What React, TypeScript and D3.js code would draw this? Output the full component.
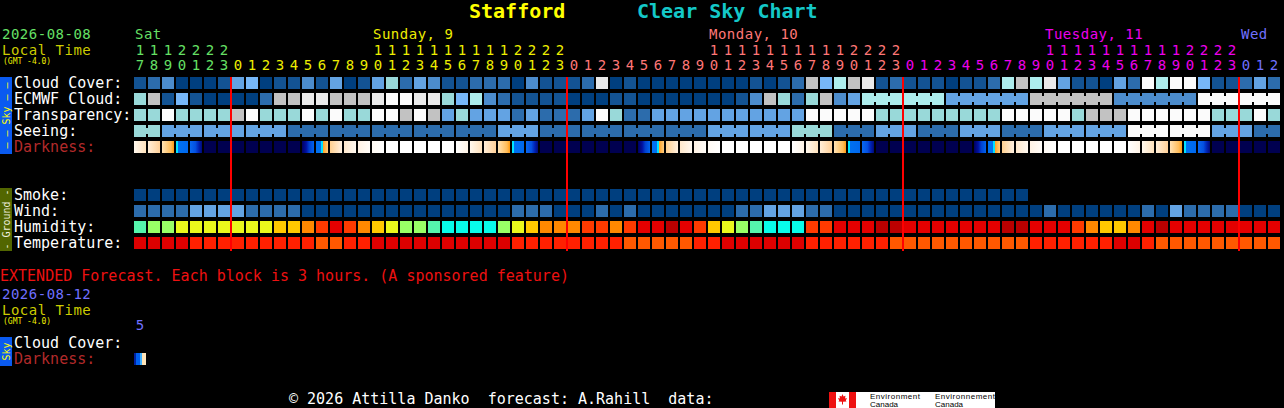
import React, { useEffect } from 'react';
import * as d3 from 'd3';

// chart forecast starts Sat 17:00 local, one column per hour
const days = [
  { label: 'Sat', color: '#66e066', first: 17, last: 23 },
  { label: 'Sunday, 9', color: '#eeee00', first: 0, last: 23 },
  { label: 'Monday, 10', color: '#ff7777', first: 0, last: 23 },
  { label: 'Tuesday, 11', color: '#ee00ee', first: 0, last: 23 },
  { label: 'Wed', color: '#7070ff', first: 0, last: 2 },
];

const skyRows = ['Cloud Cover:', 'ECMWF Cloud:', 'Transparency:', 'Seeing:', 'Darkness:'];
const groundRows = ['Smoke:', 'Wind:', 'Humidity:', 'Temperature:'];

// colour levels (0 = clear/best ... 10 = overcast/worst)
const cloudPalette = ['#003F7F', '#135393', '#2C6CAC', '#4C8CCC', '#63A3E3', '#77B7F7', '#99D9D9', '#ADEDED', '#C2C2C2', '#EAEAEA', '#FBFBFB'];
const humidityPalette = ['#08FCEA', '#55F5AC', '#99FF66', '#EAF81C', '#FFC800', '#FF8800', '#FF3A00', '#E40000', '#BB0000'];
const tempPalette = ['#DD0000', '#FF2000', '#FF5800'];

const cloudCover = [
  1, 2, 3, 0, 0, 0, 1, 4, 5, 0, 1, 1, 3, 1, 4, 0, 1, 4, 6, 2, 4,
  3, 1, 1, 2, 2, 2, 0, 3, 1, 1, 1, 2, 9, 0, 1, 0, 0, 0, 0, 0, 0, 0, 0, 1, 0, 1, 2, 8, 5, 7,
  8, 9, 1, 2, 1, 1, 1, 0, 1, 1, 2, 7, 8, 7, 9, 4, 1, 1, 0, 4, 2, 10, 7, 10, 10, 5, 1, 1, 2, 4, 2,
];

const ecmwfHourly = [
  6, 8, 1, 5, 1, 0, 0, 0, 0, 2, 8, 8, 9, 9, 8, 8, 8, 9, 10, 10, 9,
  9, 6, 5, 7, 3, 2, 1, 1, 1, 1, 0, 0, 0, 1, 1, 0, 0, 0, 0, 0, 0, 0, 1, 3, 8, 6, 2, 6, 8, 3,
  4,
];
const ecmwfSixHourly = [7, 4, 8, 3, 10];

const transparency = [
  6, 6, 10, 6, 6, 6, 6, 8, 10, 6, 6, 6, 10, 6, 10, 6, 6, 10, 10, 8, 10,
  8, 4, 6, 4, 4, 4, 2, 4, 2, 2, 2, 4, 10, 6, 2, 2, 4, 4, 4, 4, 4, 4, 4, 4, 4, 4, 4, 10, 10, 10,
  10, 10, 6, 6, 6, 6, 6, 6, 6, 6, 6, 10, 10, 10, 10, 10, 6, 8, 8, 8, 10, 10, 10, 10, 10, 10, 6, 6, 6, 10, 6,
];

// [level, hours]
const seeing: [number, number][] = [
  [6, 2], [4, 3], [4, 3], [4, 3], [2, 3], [2, 3], [2, 3], [2, 3], [2, 3], [4, 3],
  [2, 3], [2, 3], [2, 3], [2, 3], [4, 3], [4, 3], [6, 3], [2, 3], [4, 3], [2, 3],
  [4, 3], [2, 3], [4, 3], [4, 3], [10, 3], [10, 3], [4, 3], [2, 2],
];

const darkness = [
  'e1', 'e2', 'e3', 'e4', 'e5', 'N', 'N', 'N', 'N', 'N', 'N', 'N', 'm1', 'm2', 'm3', 'm4', 'm5', 'm6', 'D', 'D', 'D', 'D', 'D', 'e0',
  'e1', 'e2', 'e3', 'e4', 'e5', 'N', 'N', 'N', 'N', 'N', 'N', 'N', 'm1', 'm2', 'm3', 'm4', 'm5', 'm6', 'D', 'D', 'D', 'D', 'D', 'e0',
  'e1', 'e2', 'e3', 'e4', 'e5', 'N', 'N', 'N', 'N', 'N', 'N', 'N', 'm1', 'm2', 'm3', 'm4', 'm5', 'm6', 'D', 'D', 'D', 'D', 'D', 'e0',
  'e1', 'e2', 'e3', 'e4', 'e5', 'N', 'N', 'N', 'N', 'N',
];

const smoke = [
  0, 0, 0, 0, 0, 0, 0, 0, 0, 0, 0, 0, 0, 0, 0, 0, 0, 0, 0, 0, 0, 0, 0, 0, 0, 0, 0, 0, 0, 0, 0, 0,
  0, 0, 0, 0, 0, 0, 0, 0, 0, 0, 0, 0, 0, 0, 0, 0, 0, 0, 0, 0, 0, 0, 0, 0, 0, 0, 0, 0, 0, 0, 0, 0,
];

const wind = [
  2, 2, 2, 2, 4, 4, 4, 4, 2, 2, 2, 2, 0, 0, 0, 0, 0, 0, 0, 0, 0,
  0, 0, 0, 0, 0, 0, 2, 2, 2, 0, 0, 0, 2, 0, 2, 0, 0, 0, 0, 0, 0, 0, 2, 2, 4, 4, 4, 2, 2, 0,
  0, 0, 0, 0, 0, 0, 0, 0, 0, 0, 0, 0, 0, 0, 2, 0, 0, 0, 0, 0, 0, 2, 0, 4, 2, 2, 2, 2, 0, 0, 0,
];

const humidity = [
  1, 2, 2, 3, 3, 3, 3, 3, 3, 3, 4, 4, 5, 6, 7, 6, 5, 4, 3, 2, 2,
  1, 0, 0, 0, 0, 2, 3, 4, 5, 5, 5, 6, 6, 5, 6, 7, 7, 8, 7, 6, 4, 3, 2, 1, 0, 0, 0, 6, 6, 7,
  7, 7, 8, 8, 7, 7, 7, 7, 7, 7, 7, 8, 8, 7, 7, 7, 6, 5, 4, 4, 5, 7, 8, 7, 7, 7, 7, 7, 7, 7, 7,
];

const temperature = [
  0, 0, 0, 0, 1, 1, 1, 1, 1, 1, 1, 1, 1, 2, 2, 1, 1, 0, 0, 0, 0,
  0, 0, 0, 0, 0, 0, 1, 1, 1, 1, 1, 1, 1, 1, 2, 2, 2, 2, 2, 1, 1, 0, 0, 0, 0, 0, 0, 1, 1, 1,
  1, 1, 1, 2, 2, 2, 2, 2, 2, 2, 2, 2, 2, 1, 1, 1, 1, 1, 1, 0, 0, 1, 2, 2, 2, 2, 2, 2, 2, 2, 2,
];

// extended (3 hour blocks)
const extHours = [5];
const extDarkness = ['x1'];

// horizontal gradients inside one darkness block
const darkStops: Record<string, [number, string][]> = {
  D: [[0, '#ffffff'], [1, '#ffffff']],
  N: [[0, '#000050'], [1, '#000050']],
  e0: [[0, '#ffffff'], [1, '#fff4e6']],
  e1: [[0, '#fff8ee'], [1, '#ffe2bc']],
  e2: [[0, '#ffeed8'], [1, '#ffd098']],
  e3: [[0, '#ffe2b4'], [0.75, '#ffbc58'], [1, '#ff9a10']],
  e4: [[0, '#00e4ff'], [0.17, '#00e4ff'], [0.17, '#0070f0'], [1, '#0068ee']],
  e5: [[0, '#0868f0'], [0.45, '#0450e0'], [0.75, '#0020b0'], [1, '#000a78']],
  m1: [[0, '#000060'], [0.35, '#0010a0'], [0.6, '#0040d0'], [1, '#0064ee']],
  m2: [[0, '#0070f0'], [0.45, '#0070f0'], [0.45, '#00e0ff'], [0.58, '#00e0ff'], [0.58, '#ffa020'], [1, '#ffcc80']],
  m3: [[0, '#ffd090'], [1, '#fff0e0']],
  m4: [[0, '#ffe8cc'], [1, '#fff8f0']],
  m5: [[0, '#fff2e4'], [1, '#fffcf8']],
  m6: [[0, '#fffaf4'], [1, '#ffffff']],
  x1: [[0, '#0020a0'], [0.17, '#0020a0'], [0.17, '#0060f0'], [0.5, '#0060f0'], [0.5, '#40b0ff'], [0.67, '#40b0ff'], [0.67, '#ffe0b0'], [1, '#ffe8c0']],
};

const MONO = '"DejaVu Sans Mono", monospace';
const W = 1284;
const H = 408;

type Block = { v: number; n: number };

function BlockRow({ blocks, x, y, h, palette }: { blocks: Block[]; x: d3.ScaleBand<number>; y: number; h: number; palette: string[] }) {
  const bw = x.bandwidth();
  let col = 0;
  const out: React.ReactNode[] = [];
  blocks.forEach((b, i) => {
    const c0 = col;
    const c1 = col + b.n - 1;
    out.push(<rect key={'b' + i} x={x(c0)} y={y} width={(x(c1) as number) + bw - (x(c0) as number)} height={h} fill={palette[b.v]} />);
    for (let c = c0; c < c1; c++) {
      const gx = (x(c) as number) + bw;
      out.push(<rect key={`n${i}-${c}t`} x={gx} y={y} width={x.step() - bw} height={3} fill="#000" />);
      out.push(<rect key={`n${i}-${c}b`} x={gx} y={y + h - 3} width={x.step() - bw} height={3} fill="#000" />);
    }
    col += b.n;
  });
  return <g>{out}</g>;
}

export default function App() {
  useEffect(() => {
    document.body.style.margin = '0';
    document.body.style.background = '#000';
  }, []);

  // flatten the hour axis
  const cols: { hour: number; day: number }[] = [];
  days.forEach((d, di) => d3.range(d.first, d.last + 1).forEach((h) => cols.push({ hour: h, day: di })));
  const N = cols.length;

  const x = d3.scaleBand<number>().domain(d3.range(N)).range([134, 1280]).paddingInner(2 / 14).paddingOuter(0);
  const bw = x.bandwidth();
  const skyY = d3.scaleBand<string>().domain(skyRows).range([77, 153]).paddingInner(0.25);
  const groundY = d3.scaleBand<string>().domain(groundRows).range([189, 249]).paddingInner(0.25);
  const extY = d3.scaleBand<string>().domain(['Cloud Cover:', 'Darkness:']).range([337, 365]).paddingInner(0.25);
  const rh = skyY.bandwidth();

  const hourly = (vals: number[]): Block[] => vals.map((v) => ({ v, n: 1 }));
  const ecmwfBlocks = hourly(ecmwfHourly).concat(ecmwfSixHourly.map((v) => ({ v, n: 6 })));
  const seeingBlocks = seeing.map(([v, n]) => ({ v, n }));

  const simpleRow = (vals: number[], y: number, palette: string[], key: string) =>
    vals.map((v, i) => <rect key={key + i} x={x(i)} y={y} width={bw} height={rh} fill={palette[v]} />);

  const midnights = cols.map((c, i) => (c.hour === 0 ? i : -1)).filter((i) => i >= 0);

  // day label goes above 10:00, or the first column if the day has no 10:00
  const dayLabelCol = days.map((d, di) => {
    const idx = cols.findIndex((c) => c.day === di && c.hour === 10);
    return idx >= 0 ? idx : cols.findIndex((c) => c.day === di);
  });

  const headerText = { fontSize: 14, letterSpacing: 0.5 };
  const labelStyle = { fontSize: 15 };

  return (
    <svg width={W} height={H} style={{ position: 'absolute', left: 0, top: 0, display: 'block' }} fontFamily={MONO}>
      <defs>
        {Object.entries(darkStops).map(([k, stops]) => (
          <linearGradient key={k} id={'dk-' + k} x1="0" x2="1" y1="0" y2="0">
            {stops.map(([o, c], i) => (
              <stop key={i} offset={o} stopColor={c} />
            ))}
          </linearGradient>
        ))}
      </defs>
      <rect width={W} height={H} fill="#000" />

      {/* title */}
      <text x={469} y={18} fontSize={20} fontWeight="bold" fill="#ffff00">Stafford</text>
      <text x={637} y={18} fontSize={20} fontWeight="bold" fill="#14c8c8">Clear Sky Chart</text>

      {/* header */}
      <text x={2} y={39} fill="#66e066" {...headerText}>2026-08-08</text>
      <text x={2} y={55} fill="#cccc00" {...headerText}>Local Time</text>
      <text x={3} y={64} fill="#eeee00" fontSize={8}>(GMT -4.0)</text>
      {days.map((d, di) => (
        <text key={'day' + di} x={(x(dayLabelCol[di]) as number) + 1} y={39} fill={d.color} {...headerText}>
          {d.label}
        </text>
      ))}
      {cols.map((c, i) => (
        <g key={'h' + i} fill={days[c.day].color} fontSize={14} textAnchor="middle">
          {c.hour >= 10 && <text x={(x(i) as number) + bw / 2} y={55}>{Math.floor(c.hour / 10)}</text>}
          <text x={(x(i) as number) + bw / 2} y={70}>{c.hour % 10}</text>
        </g>
      ))}

      {/* side bars */}
      <rect x={0} y={77} width={12} height={77} fill="#0a5af0" />
      <text transform="translate(10,115.5) rotate(-90)" textAnchor="middle" fontSize={10} fill="#ffff00" textLength={66}>
        — — Sky — —
      </text>
      <rect x={0} y={188} width={12} height={63} fill="#526600" />
      <text transform="translate(10,219.5) rotate(-90)" textAnchor="middle" fontSize={10} fill="#eeeedd">
        - Ground -
      </text>

      {/* row labels */}
      {skyRows.map((r) => (
        <text key={r} x={14} y={(skyY(r) as number) + 10.5} fill={r === 'Darkness:' ? '#b22a2a' : '#ffffff'} {...labelStyle}>
          {r}
        </text>
      ))}
      {groundRows.map((r) => (
        <text key={r} x={14} y={(groundY(r) as number) + 10.5} fill="#ffffff" {...labelStyle}>
          {r}
        </text>
      ))}

      {/* sky rows */}
      {simpleRow(cloudCover, skyY('Cloud Cover:') as number, cloudPalette, 'cc')}
      <BlockRow blocks={ecmwfBlocks} x={x} y={skyY('ECMWF Cloud:') as number} h={rh} palette={cloudPalette} />
      {simpleRow(transparency, skyY('Transparency:') as number, cloudPalette, 'tr')}
      <BlockRow blocks={seeingBlocks} x={x} y={skyY('Seeing:') as number} h={rh} palette={cloudPalette} />
      {darkness.map((d, i) => (
        <rect key={'dk' + i} x={x(i)} y={skyY('Darkness:')} width={bw} height={rh} fill={`url(#dk-${d})`} />
      ))}

      {/* ground rows */}
      {simpleRow(smoke, groundY('Smoke:') as number, cloudPalette, 'sm')}
      {simpleRow(wind, groundY('Wind:') as number, cloudPalette, 'wi')}
      {simpleRow(humidity, groundY('Humidity:') as number, humidityPalette, 'hu')}
      {simpleRow(temperature, groundY('Temperature:') as number, tempPalette, 'te')}

      {/* midnight lines */}
      {midnights.map((i) => (
        <rect key={'mn' + i} x={(x(i) as number) - 2} y={77} width={2} height={174} fill="#ff0000" />
      ))}

      {/* extended forecast */}
      <text x={0} y={281} fill="#ee1111" {...labelStyle}>
        EXTENDED Forecast. Each block is 3 hours. (A sponsored feature)
      </text>
      <text x={2} y={299} fill="#7070ff" {...headerText}>2026-08-12</text>
      <text x={2} y={315} fill="#cccc00" {...headerText}>Local Time</text>
      <text x={3} y={324} fill="#eeee00" fontSize={8}>(GMT -4.0)</text>
      {extHours.map((h, i) => (
        <text key={'eh' + i} x={(x(i) as number) + bw / 2} y={330} fill="#7070ff" fontSize={14} textAnchor="middle">
          {h}
        </text>
      ))}
      <rect x={0} y={337} width={12} height={29} fill="#0a5af0" />
      <text transform="translate(10,351.5) rotate(-90)" textAnchor="middle" fontSize={10} fill="#ffff00">Sky</text>
      <text x={14} y={(extY('Cloud Cover:') as number) + 10.5} fill="#ffffff" {...labelStyle}>Cloud Cover:</text>
      <text x={14} y={(extY('Darkness:') as number) + 10.5} fill="#b22a2a" {...labelStyle}>Darkness:</text>
      {extDarkness.map((d, i) => (
        <rect key={'xd' + i} x={x(i)} y={extY('Darkness:')} width={bw} height={rh} fill={`url(#dk-${d})`} />
      ))}

      {/* footer */}
      <text x={289} y={404} fill="#ffffff" {...labelStyle} style={{ whiteSpace: 'pre' }}>
        {'© 2026 Attilla Danko  forecast: A.Rahill  data:'}
      </text>
      <g>
        <rect x={829} y={392} width={166} height={16} fill="#ffffff" />
        <rect x={829} y={392} width={7} height={16} fill="#ee1111" />
        <rect x={849} y={392} width={7} height={16} fill="#ee1111" />
        <path
          d="M842.5,394 L843.5,396.5 L845.5,395.8 L845,398.5 L847,398 L845.8,400.5 L846.5,401.5 L843,401.8 L843,404.5 L842,404.5 L842,401.8 L838.5,401.5 L839.2,400.5 L838,398 L840,398.5 L839.5,395.8 L841.5,396.5 Z"
          fill="#ee1111"
        />
        <g fontFamily='"Liberation Sans", sans-serif' fontSize={8} fill="#000">
          <text x={870} y={399} textLength={50}>Environment</text>
          <text x={870} y={407}>Canada</text>
          <text x={935} y={399} textLength={60}>Environnement</text>
          <text x={935} y={407}>Canada</text>
        </g>
      </g>
    </svg>
  );
}
